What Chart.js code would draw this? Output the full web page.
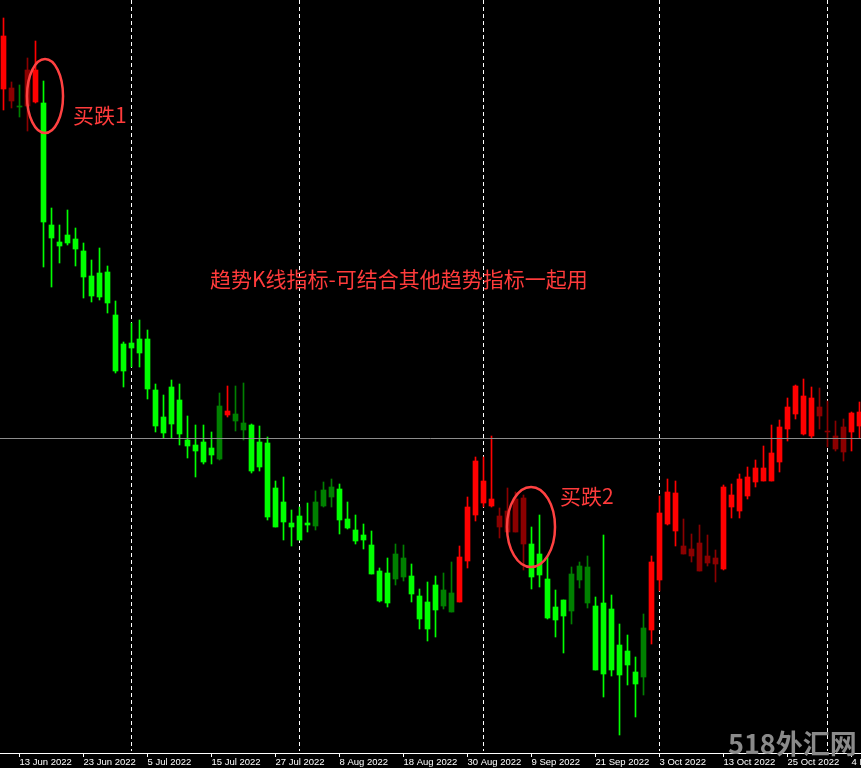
<!DOCTYPE html>
<html>
<head>
<meta charset="utf-8">
<script src="https://cdn.jsdelivr.net/npm/chart.js@4/dist/chart.umd.min.js"></script>
<style>
  html, body { margin: 0; padding: 0; background: #000; overflow: hidden; }
  canvas { display: block; }
</style>
</head>
<body>
<canvas id="chart" width="861" height="768"></canvas>
<script>
const dates = [
  "9 Jun 2022","10 Jun 2022","13 Jun 2022","14 Jun 2022","15 Jun 2022","16 Jun 2022","17 Jun 2022","20 Jun 2022","21 Jun 2022","22 Jun 2022",
  "23 Jun 2022","24 Jun 2022","27 Jun 2022","28 Jun 2022","29 Jun 2022","30 Jun 2022","1 Jul 2022","4 Jul 2022","5 Jul 2022","6 Jul 2022",
  "7 Jul 2022","8 Jul 2022","11 Jul 2022","12 Jul 2022","13 Jul 2022","14 Jul 2022","15 Jul 2022","18 Jul 2022","19 Jul 2022","20 Jul 2022",
  "21 Jul 2022","22 Jul 2022","25 Jul 2022","26 Jul 2022","27 Jul 2022","28 Jul 2022","29 Jul 2022","1 Aug 2022","2 Aug 2022","3 Aug 2022",
  "4 Aug 2022","5 Aug 2022","8 Aug 2022","9 Aug 2022","10 Aug 2022","11 Aug 2022","12 Aug 2022","15 Aug 2022","16 Aug 2022","17 Aug 2022",
  "18 Aug 2022","19 Aug 2022","22 Aug 2022","23 Aug 2022","24 Aug 2022","25 Aug 2022","26 Aug 2022","29 Aug 2022","30 Aug 2022","31 Aug 2022",
  "1 Sep 2022","2 Sep 2022","5 Sep 2022","6 Sep 2022","7 Sep 2022","8 Sep 2022","9 Sep 2022","12 Sep 2022","13 Sep 2022","14 Sep 2022",
  "15 Sep 2022","16 Sep 2022","19 Sep 2022","20 Sep 2022","21 Sep 2022","22 Sep 2022","23 Sep 2022","26 Sep 2022","27 Sep 2022","28 Sep 2022",
  "29 Sep 2022","30 Sep 2022","3 Oct 2022","4 Oct 2022","5 Oct 2022","6 Oct 2022","7 Oct 2022","10 Oct 2022","11 Oct 2022","12 Oct 2022",
  "13 Oct 2022","14 Oct 2022","17 Oct 2022","18 Oct 2022","19 Oct 2022","20 Oct 2022","21 Oct 2022","24 Oct 2022","25 Oct 2022","26 Oct 2022",
  "27 Oct 2022","28 Oct 2022","31 Oct 2022","1 Nov 2022","2 Nov 2022","3 Nov 2022","4 Nov 2022","7 Nov 2022"
];

const open = [
  711,712,693,730,698,697,575,558,565,561,
  549,524,527,528,485,456,457,461,461,410,
  383,413,400,360,355,358,352,341,385,379,
  370,375,358,357,312,298,277,284,277,274,
  294,303,311,281,270,265,255,229,227,221,
  223,224,204,198,215,194,188,198,239,285,
  297,294,284,289,301,302,256,246,221,193,
  200,189,220,197,194,197,191,155,149,128,
  123,170,220,276,269,254,251,257,244,242,
  231,293,289,304,318,319,319,338,371,386,
  366,364,393,369,364,373,368,374
];
const high = [
  782,718,715,742,759,719,592,575,590,572,
  557,540,552,534,499,458,477,480,470,416,
  405,420,416,384,375,375,368,407,414,414,
  417,376,374,363,319,323,290,293,297,309,
  318,321,316,298,285,276,269,232,242,256,
  255,236,211,218,224,227,238,254,303,343,
  343,364,292,312,308,305,273,285,243,210,
  200,233,238,244,203,265,205,176,165,143,
  186,244,304,321,319,281,266,275,265,250,
  315,316,326,333,340,354,375,380,402,415,
  421,413,412,399,379,381,388,398
];
const low = [
  690,692,683,669,697,533,513,537,555,534,
  502,498,500,487,427,413,433,433,401,368,
  362,362,355,342,323,336,336,340,383,369,
  360,327,329,280,273,260,254,260,268,270,
  293,293,266,271,256,251,226,198,193,215,
  219,198,171,159,163,191,188,198,232,279,
  293,293,262,268,268,230,211,213,181,163,
  147,176,212,192,130,103,124,65,115,83,
  105,156,209,275,254,246,238,229,234,218,
  230,282,282,301,313,319,319,328,359,381,
  365,362,371,353,349,339,349,362
];
const close = [
  764,699,694,694,730,578,562,554,557,551,
  523,504,503,497,429,429,452,447,411,374,
  367,376,366,354,349,338,345,394,389,386,
  377,329,333,283,273,278,273,260,275,298,
  310,313,280,272,259,260,226,199,197,246,
  242,206,181,171,190,210,207,243,293,339,
  319,301,273,268,268,256,223,225,182,180,
  184,226,234,233,130,126,130,125,135,116,
  172,238,287,308,307,246,244,229,237,236,
  313,305,321,323,332,332,347,373,393,414,
  404,402,384,368,351,348,387,388
];
// R strong up, r weak up, G strong down, g weak down
const trend = (
  "RrgrRGGGGG" + "GGGGGGGGGG" + "GGGGGGGgRg" + "gGGGGGGGGg" + "ggGGGGGGGg" +
  "gGGGGggRRR" + "RRrrrrGGGG" + "GgggGGGGGG" + "gRRRRrrrrr" + "RRRRRRRRRR" + "RRrrrrRR"
).split("");

const tickLabels = ["13 Jun 2022","23 Jun 2022","5 Jul 2022","15 Jul 2022","27 Jul 2022","8 Aug 2022","18 Aug 2022",
  "30 Aug 2022","9 Sep 2022","21 Sep 2022","3 Oct 2022","13 Oct 2022","25 Oct 2022","4 Nov 2022"];
const monthStarts = ["1 Jul 2022","1 Aug 2022","1 Sep 2022","3 Oct 2022","1 Nov 2022"];
const priceLine = 362;

const notes = [
  {text:"买跌1", i:8.69, v:684.5},
  {text:"买跌2", i:69.56, v:303.5},
  {text:"趋势K线指标-可结合其他趋势指标一起用", i:25.81, v:521}
];
const circles = [
  {i:5.19, v:704, rx:18, ry:37},
  {i:65.94, v:273, rx:24, ry:40}
];

const colors = {R:"#ff0000", r:"#8b0000", G:"#00ff00", g:"#008000"};
const barColors = trend.map(t => colors[t]);

const overlay = {
  id: "overlay",
  beforeDatasetsDraw(chart) {
    const {ctx, chartArea, scales:{x}} = chart;
    ctx.save();
    ctx.strokeStyle = "#ffffff";
    ctx.lineWidth = 1;
    ctx.setLineDash([4, 3]);
    monthStarts.forEach(d => {
      const px = Math.round(x.getPixelForValue(dates.indexOf(d)) - 0.5) + 0.5;
      ctx.beginPath();
      ctx.moveTo(px, chartArea.top);
      ctx.lineTo(px, chartArea.bottom - 2);
      ctx.stroke();
    });
    ctx.restore();
  },
  afterDatasetsDraw(chart) {
    const {ctx, chartArea, scales:{x, y}} = chart;
    ctx.save();
    const py = Math.round(y.getPixelForValue(priceLine)) + 0.5;
    ctx.strokeStyle = "#8c8c8c";
    ctx.lineWidth = 1;
    ctx.beginPath();
    ctx.moveTo(chartArea.left, py);
    ctx.lineTo(chartArea.right, py);
    ctx.stroke();

    ctx.strokeStyle = "#ff4141";
    ctx.lineWidth = 2.5;
    circles.forEach(c => {
      ctx.beginPath();
      ctx.ellipse(x.getPixelForValue(c.i), y.getPixelForValue(c.v), c.rx, c.ry, 0, 0, Math.PI * 2);
      ctx.stroke();
    });

    ctx.fillStyle = "#ff3b3b";
    ctx.font = '21px "Noto Sans CJK SC"';
    ctx.textBaseline = "middle";
    ctx.textAlign = "left";
    notes.forEach(n => {
      ctx.fillText(n.text, x.getPixelForValue(n.i), y.getPixelForValue(n.v));
    });
    ctx.restore();
  },
  afterDraw(chart) {
    const {ctx, scales:{x, y}} = chart;
    ctx.save();
    ctx.fillStyle = "#8a8a8a";
    ctx.font = 'bold 27px "Noto Sans CJK SC"';
    ctx.textBaseline = "middle";
    ctx.fillText("518外汇网", x.getPixelForValue(90.56), y.getPixelForValue(56.5));
    ctx.restore();
  }
};

const ctx = document.getElementById("chart").getContext("2d");

new Chart(ctx, {
  type: "bar",
  data: {
    datasets: [
      {
        label: "body",
        data: dates.map((d, i) => ({x: i, y: [open[i], close[i]]})),
        backgroundColor: barColors,
        barThickness: 5,
        grouped: false,
        borderWidth: 0
      },
      {
        label: "wick",
        data: dates.map((d, i) => ({x: i, y: [low[i], high[i]]})),
        backgroundColor: barColors,
        barThickness: 1,
        grouped: false,
        borderWidth: 0
      }
    ]
  },
  options: {
    responsive: false,
    animation: false,
    layout: {padding: 0, autoPadding: false},
    plugins: {legend: {display: false}, tooltip: {enabled: false}},
    scales: {
      x: {
        type: "linear",
        min: -0.4375,
        max: 107.1875,
        offset: false,
        grid: {offset: false, drawOnChartArea: false, drawTicks: true, tickLength: 4, tickColor: "#ffffff"},
        border: {display: true, color: "#ffffff", width: 1},
        ticks: {
          align: "start",
          padding: 0,
          color: "#ffffff",
          autoSkip: false,
          maxRotation: 0,
          font: {family: "Liberation Sans", size: 9.5},
          callback: v => dates[v]
        },
        afterBuildTicks: s => { s.ticks = tickLabels.map(l => ({value: dates.indexOf(l)})); },
        afterFit: s => { s.height = 15; s.paddingLeft = 0; s.paddingRight = 0; }
      },
      y: {display: false, min: 47, max: 800}
    }
  },
  plugins: [overlay]
});
</script>
</body>
</html>
